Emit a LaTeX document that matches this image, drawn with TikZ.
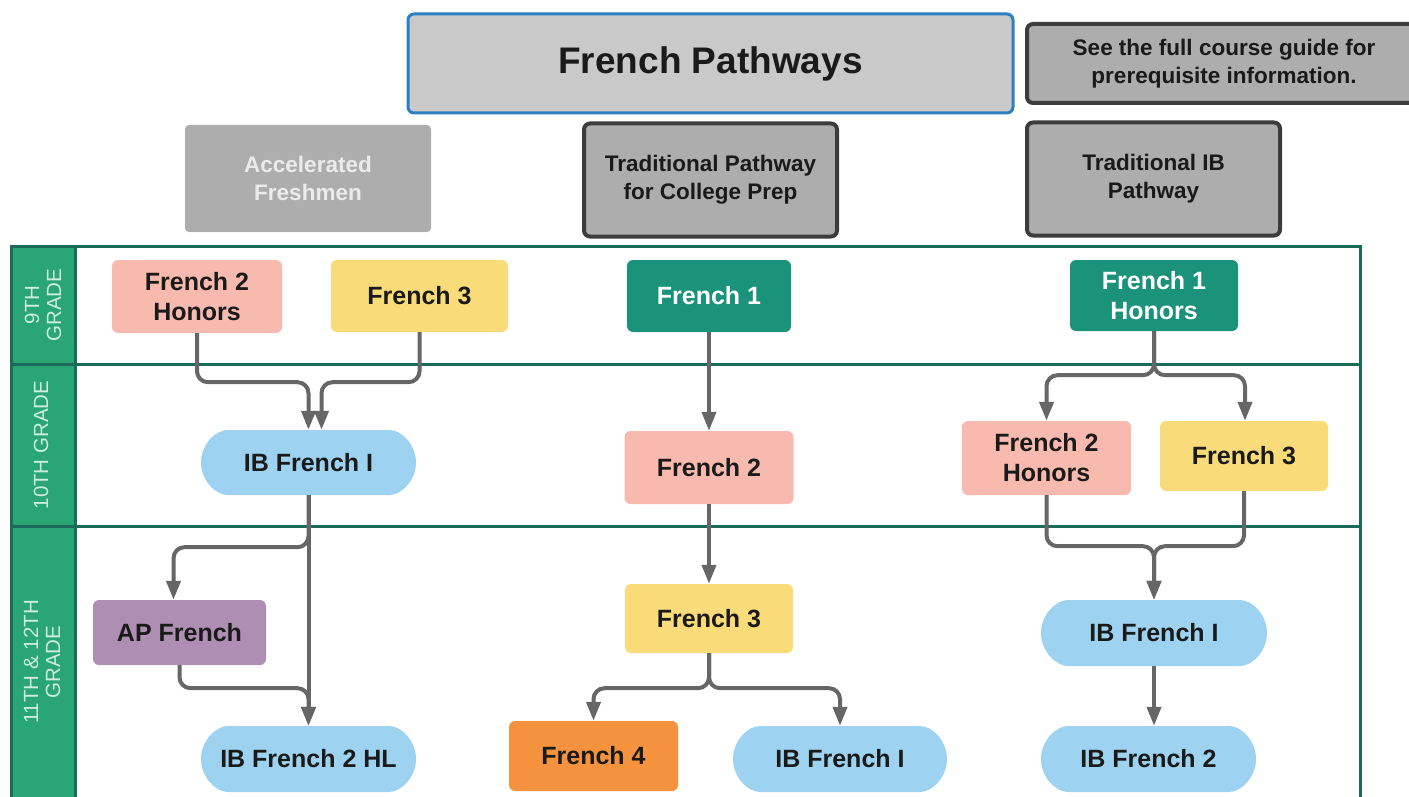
\documentclass[tikz,border=0pt]{standalone}
\usepackage{fontspec}
\setmainfont{Liberation Sans}
\usetikzlibrary{arrows.meta,shapes.misc,calc}
\definecolor{pinkc}{HTML}{F8B9AF}
\definecolor{yellowc}{HTML}{F9DC79}
\definecolor{tealc}{HTML}{1B937A}
\definecolor{bluec}{HTML}{9DD3F0}
\definecolor{purplec}{HTML}{AE8FB3}
\definecolor{orangec}{HTML}{F4923D}
\definecolor{graybox}{HTML}{ADADAD}
\definecolor{titlegray}{HTML}{C9C9C9}
\definecolor{titleblue}{HTML}{2B80C3}
\definecolor{darkbord}{HTML}{3C3C3C}
\definecolor{lanegreen}{HTML}{2AA574}
\definecolor{lanebord}{HTML}{1B6B5A}
\definecolor{lanetext}{HTML}{CDEFDD}
\definecolor{arrowgray}{HTML}{666666}
\definecolor{txt}{HTML}{1A1A1A}
\begin{document}
\begin{tikzpicture}[x=1pt,y=-1pt,
  course/.style={rectangle, rounded corners=6pt, inner sep=0pt, align=center,
    font=\fontsize{25}{30}\selectfont\bfseries, text=txt},
  pinkbox/.style={course, fill=pinkc},
  yellowbox/.style={course, fill=yellowc},
  tealbox/.style={course, fill=tealc, text=white},
  purplebox/.style={course, fill=purplec},
  orangebox/.style={course, fill=orangec},
  stadium/.style={course, rounded rectangle, fill=bluec},
  header/.style={rectangle, rounded corners=6pt, inner sep=0pt, align=center,
    fill=graybox, font=\fontsize{22.5}{28}\selectfont\bfseries, text=txt},
  framedheader/.style={header, draw=darkbord, line width=4pt},
  gradelabel/.style={rotate=90, align=center, text=lanetext,
    font=\fontsize{20.5}{22}\selectfont},
  arr/.style={draw=arrowgray, line width=4pt, rounded corners=11pt,
    -{Triangle[width=14pt,length=19pt]}}
]
\useasboundingbox (0,0) rectangle (1409,797);

% swimlane table
\fill[lanegreen] (11,246) rectangle (75,830);
\begin{scope}[draw=lanebord, line width=3pt]
  \draw (11,246) rectangle (1360,830);
  \draw (75,246) -- (75,830);
  \draw (11,364) -- (1360,364);
  \draw (11,526) -- (1360,526);
\end{scope}
\node[gradelabel] (g9) at (43,305) {9TH\\GRADE};
\node[gradelabel] (g10) at (41,445) {10TH GRADE};
\node[gradelabel] (g11) at (42,662) {11TH \& 12TH\\GRADE};

% title & headers
\node[header, fill=titlegray, draw=titleblue, line width=3pt,
  minimum width=605pt, minimum height=99pt,
  font=\fontsize{37}{40}\selectfont\bfseries] (title) at (710.5,63.5) {French Pathways};
\node[framedheader, minimum width=394pt, minimum height=79pt,
  font=\fontsize{22.5}{28}\selectfont\bfseries] (note) at (1224,63.5)
  {See the full course guide for\\prerequisite information.};
\node[header, rounded corners=4pt, minimum width=246pt, minimum height=107pt,
  text=white!92!black] (acc) at (308,178.5) {Accelerated\\Freshmen};
\node[framedheader, minimum width=253pt, minimum height=113pt] (trad) at (710.5,180)
  {Traditional Pathway\\for College Prep};
\node[framedheader, minimum width=253pt, minimum height=113pt] (tib) at (1153.5,179)
  {Traditional IB\\Pathway};

% accelerated column
\node[pinkbox, minimum width=170pt, minimum height=73pt] (f2hA) at (197,296.5) {French 2\\Honors};
\node[yellowbox, minimum width=177pt, minimum height=72pt] (f3A) at (419.5,296) {French 3};
\node[stadium, minimum width=215pt, minimum height=65pt] (ibA) at (308.5,462.5) {IB French I};
\node[purplebox, minimum width=173pt, minimum height=65pt] (ap) at (179.5,632.5) {AP French};
\node[stadium, minimum width=215pt, minimum height=66pt] (ib2hl) at (308.5,759) {IB French 2 HL};

% traditional column
\node[tealbox, minimum width=164pt, minimum height=72pt] (f1) at (709,296) {French 1};
\node[pinkbox, minimum width=169pt, minimum height=73pt] (f2m) at (709,467.5) {French 2};
\node[yellowbox, minimum width=168pt, minimum height=69pt] (f3m) at (709,618.5) {French 3};
\node[orangebox, minimum width=169pt, minimum height=70pt] (f4) at (593.5,756) {French 4};
\node[stadium, minimum width=214pt, minimum height=66pt] (ibm) at (840,759) {IB French I};

% IB column
\node[tealbox, minimum width=168pt, minimum height=71pt] (f1h) at (1154,295.5) {French 1\\Honors};
\node[pinkbox, minimum width=169pt, minimum height=74pt] (f2hR) at (1046.5,458) {French 2\\Honors};
\node[yellowbox, minimum width=168pt, minimum height=70pt] (f3R) at (1244,456) {French 3};
\node[stadium, minimum width=226pt, minimum height=66pt] (ibR) at (1154,633) {IB French I};
\node[stadium, minimum width=215pt, minimum height=66pt] (ib2R) at (1148.5,759) {IB French 2};

% connectors
\draw[arr] (f2hA.south) -- ++(0,49) -| (ibA.north);
\draw[arr] (f3A.south) -- ++(0,50) -| ([xshift=13pt]ibA.north);
\draw[arr] (ibA.south) -- (ib2hl.north);
\draw[arr] (ibA.south) -- ++(0,52) -| ([xshift=-6pt]ap.north);
\draw[arr] (ap.south) -- ++(0,23) -| (ib2hl.north);

\draw[arr] (f1.south) -- (f2m.north);
\draw[arr] (f2m.south) -- (f3m.north);
\draw[arr] (f3m.south) -- ++(0,35) -| (f4.north);
\draw[arr] (f3m.south) -- ++(0,35) -| (ibm.north);

\draw[arr] (f1h.south) -- ++(0,44) -| (f2hR.north);
\draw[arr] (f1h.south) -- ++(0,44) -| ([xshift=1pt]f3R.north);
\draw[arr] (f2hR.south) -- ++(0,51) -| (ibR.north);
\draw[arr] (f3R.south) -- ++(0,55) -| (ibR.north);
\draw[arr] (ibR.south) -- (ibR.south |- ib2R.north);
\end{tikzpicture}
\end{document}
